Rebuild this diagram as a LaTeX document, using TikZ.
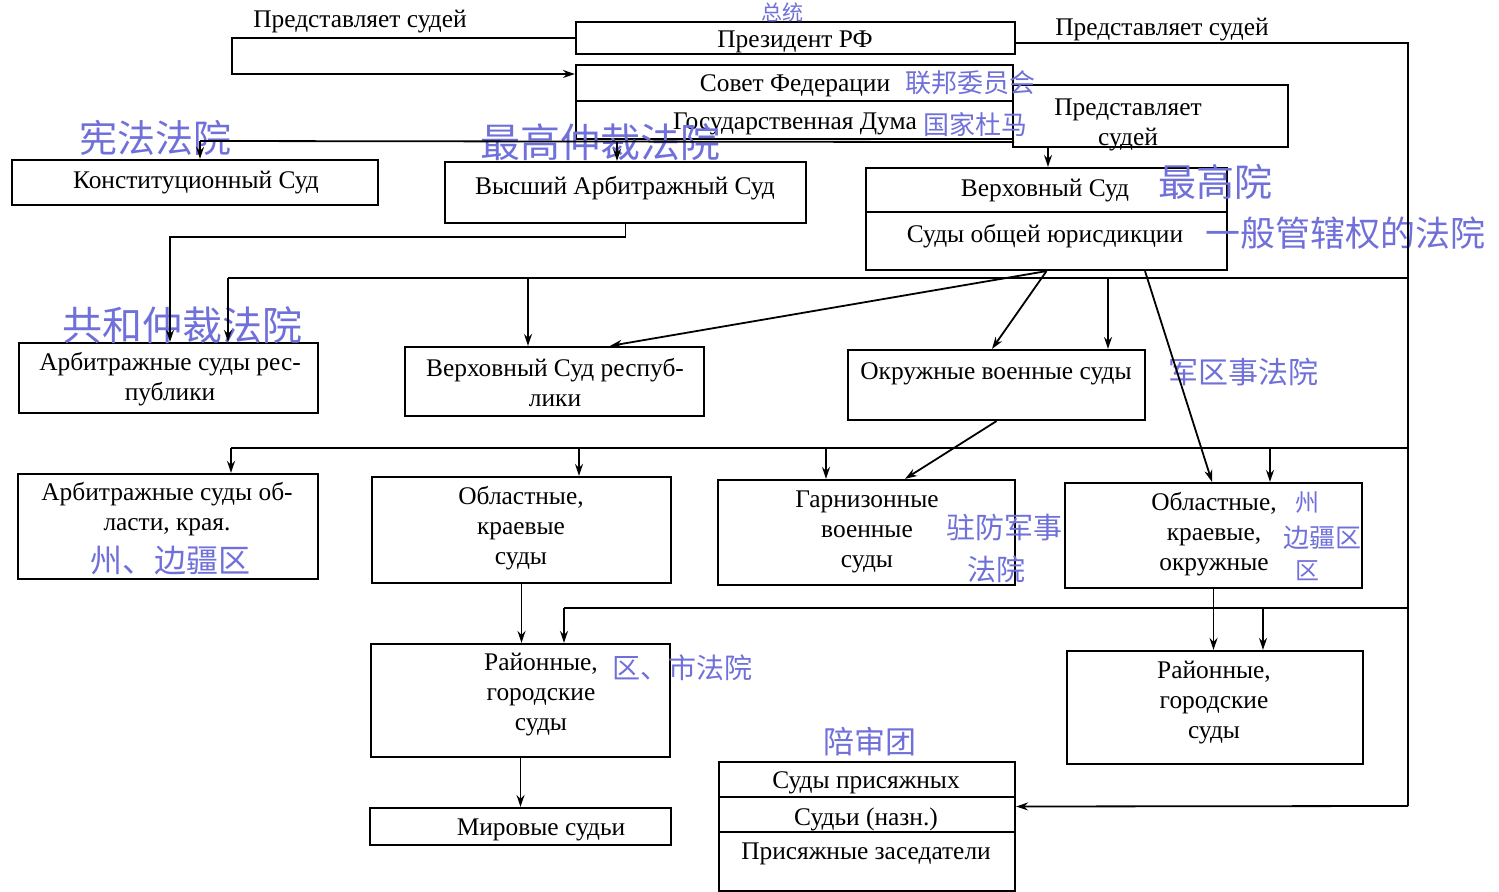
\documentclass[tikz,border=0pt]{standalone}
\usepackage{fontspec}
\setmainfont{Liberation Serif}
\newfontfamily\cjk{Noto Sans CJK SC}
\usetikzlibrary{arrows.meta,fit}
\definecolor{hwblue}{RGB}{112,112,218}
\begin{document}
\begin{tikzpicture}[x=0.5pt,y=-0.5pt,
  box/.style={draw,line width=1.1pt,inner sep=0pt},
  txt/.style={font=\fontsize{12.7}{15}\selectfont,inner sep=0pt,align=center,yshift=-1pt},
  hw/.style={font=\cjk\fontsize{#1}{#1}\selectfont,text=hwblue,inner sep=0pt},
  hw/.default=15,
  con/.style={line width=0.9pt},
  arr/.style={con,-{Stealth[length=6pt,width=4pt]}}]
\useasboundingbox (0,0) rectangle (1499,892);
\fill[white] (0,0) rectangle (1499,892);
% boxes
\node[box,fit={(576,22)(1015,54)}] (pres) {};
\node[box,fit={(576,65)(1013,101)}] (sf) {};
\node[box,fit={(576,101)(1013,139)}] (gd) {};
\node[box,fit={(1013,85)(1288,147)}] (pred) {};
\node[box,fit={(12,160)(378,205)}] (ks) {};
\node[box,fit={(445,162)(806,223)}] (vas) {};
\node[box,fit={(866,168)(1227,212)}] (vs) {};
\node[box,fit={(866,212)(1227,270)}] (sou) {};
\node[box,fit={(19,343)(318,413)}] (asr) {};
\node[box,fit={(405,347)(704,416)}] (vsr) {};
\node[box,fit={(848,350)(1145,420)}] (ovs) {};
\node[box,fit={(18,474)(318,579)}] (aso) {};
\node[box,fit={(372,477)(671,583)}] (oks) {};
\node[box,fit={(718,480)(1015,585)}] (gvs) {};
\node[box,fit={(1065,483)(1362,588)}] (oko) {};
\node[box,fit={(371,644)(670,757)}] (rgl) {};
\node[box,fit={(1067,651)(1363,764)}] (rgr) {};
\node[box,fit={(370,808)(671,845)}] (mir) {};
\node[box,fit={(719,762)(1015,797)}] (sp) {};
\node[box,fit={(719,797)(1015,832)}] (sn) {};
\node[box,fit={(719,832)(1015,891)}] (pz) {};
% texts
\node[txt] (tpres) at (795,40) {Президент РФ};
\node[txt] (tsf) at (795,84) {Совет Федерации};
\node[txt] (tgd) at (795,122) {Государственная Дума};
\node[txt] (tpred) at (1128,123) {Представляет\\судей};
\node[txt] (tks) at (196,181) {Конституционный Суд};
\node[txt] (tvas) at (625,186) {Высший Арбитражный Суд};
\node[txt] (tvs) at (1045,189) {Верховный Суд};
\node[txt] (tsou) at (1045,234) {Суды общей юрисдикции};
\node[txt] (tasr) at (170,377) {Арбитражные суды рес-\\публики};
\node[txt] (tvsr) at (555,381) {Верховный Суд респуб-\\лики};
\node[txt] (tovs) at (996,372) {Окружные военные суды};
\node[txt] (taso) at (167,507) {Арбитражные суды об-\\ласти, края.};
\node[txt] (toks) at (521,526) {Областные,\\краевые\\суды};
\node[txt] (tgvs) at (867,530) {Гарнизонные\\военные\\суды};
\node[txt] (toko) at (1214,532) {Областные,\\краевые,\\окружные};
\node[txt] (trgl) at (541,693) {Районные,\\городские\\суды};
\node[txt] (trgr) at (1214,701) {Районные,\\городские\\суды};
\node[txt] (tmir) at (541,828) {Мировые судьи};
\node[txt] (tsp) at (866,781) {Суды присяжных};
\node[txt] (tsn) at (866,817) {Судьи (назн.)};
\node[txt] (tpz) at (866,852) {Присяжные заседатели};
\node[txt] (lab1) at (360,20) {Представляет судей};
\node[txt] (lab2) at (1162,28) {Представляет судей};
% handwritten notes
\node[hw=10.5] (h1) at (782,12) {总统};
\node[hw=13] (h2) at (970,83) {联邦委员会};
\node[hw=13] (h3) at (975,125) {国家杜马};
\node[hw=19] (h4) at (155,138) {宪法法院};
\node[hw=20] (h5) at (600,142) {最高仲裁法院};
\node[hw=19] (h6) at (1215,182) {最高院};
\node[hw=17.5] (h7) at (1345,233) {一般管辖权的法院};
\node[hw=20] (h8) at (182,325) {共和仲裁法院};
\node[hw=15] (h9) at (1243,372) {军区事法院};
\node[hw=14.5] (h10) at (1004,528) {驻防军事};
\node[hw=14.5] (h11) at (996,569) {法院};
\node[hw=12] (h12) at (1307,503) {州};
\node[hw=13] (h13) at (1322,538) {边疆区};
\node[hw=12] (h14) at (1307,571) {区};
\node[hw=16] (h15) at (170,561) {州、边疆区};
\node[hw=14] (h16) at (682,668) {区、市法院};
\node[hw=15.5] (h17) at (870,742) {陪审团};
% column coordinates
\coordinate (x170) at (170,0);
\coordinate (x528) at (528,0);
\coordinate (x579) at (579,0);
\coordinate (x564) at (564,0);
\coordinate (x610) at (610,0);
\coordinate (x617) at (617,0);
\coordinate (x826) at (826,0);
\coordinate (x905) at (905,0);
\coordinate (x992) at (992,0);
\coordinate (x1048) at (1048,0);
\coordinate (x1108) at (1108,0);
\coordinate (x1145) at (1145,0);
\coordinate (x1212) at (1212,0);
\coordinate (x1263) at (1263,0);
\coordinate (x1270) at (1270,0);
% rails
\coordinate (tlc) at (232,38);
\coordinate (rv) at (1408,806);
\coordinate (h1c) at (1408,278);
\coordinate (h1L) at (228,278);
\coordinate (h2c) at (1408,448);
\coordinate (h2L) at (231,448);
\coordinate (h3c) at (1408,608);
\coordinate (h3L) at (564,608);
\coordinate (g1L) at (200,141);
% connectors
\draw[arr] (pres.west) -- (tlc) |- ([yshift=4.5pt]sf.west);
\draw[con] ([yshift=-2.5pt]pres.east) -| (rv);
\draw[arr] (rv) -- ([yshift=4pt]sn.east);
\draw[con] ([yshift=-1pt]gd.south east) -- (g1L);
\draw[arr] (g1L) -- (g1L |- ks.north);
\draw[arr] (x617 |- g1L) -- (x617 |- vas.north);
\draw[arr] (x1048 |- pred.south) -- (x1048 |- vs.north);
\draw[arr] (vas.south) -- ++(0,13) -| (x170 |- asr.north);
\draw[con] (h1c) -- (h1L);
\draw[arr] (h1L) -- (h1L |- asr.north);
\draw[arr] (x528 |- h1L) -- (x528 |- vsr.north);
\draw[arr] (x1108 |- h1L) -- (x1108 |- ovs.north);
\draw[con] (h2c) -- (h2L);
\draw[arr] (h2L) -- (h2L |- aso.north);
\draw[arr] (x579 |- h2L) -- (x579 |- oks.north);
\draw[arr] (x826 |- h2L) -- (x826 |- gvs.north);
\draw[arr] (x1270 |- h2L) -- (x1270 |- oko.north);
\draw[con] (h3c) -- (h3L);
\draw[arr] (h3L) -- (h3L |- rgl.north);
\draw[arr] (x1263 |- h3L) -- (x1263 |- rgr.north);
\draw[arr] (sou.south) -- (x610 |- vsr.north);
\draw[arr] (sou.south) -- (x992 |- ovs.north);
\draw[arr] (x1145 |- sou.south) -- (x1212 |- oko.north);
\draw[arr] (ovs.south) -- (x905 |- gvs.north);
\draw[arr] (oko.south) -- (oko.south |- rgr.north);
\draw[arr] (oks.south) -- (oks.south |- rgl.north);
\draw[arr] (rgl.south) -- (mir.north);
\end{tikzpicture}
\end{document}
